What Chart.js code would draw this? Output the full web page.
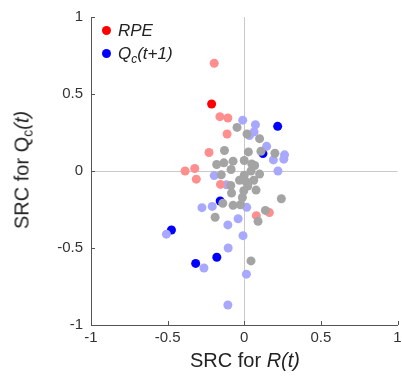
<!DOCTYPE html>
<html>
<head>
<meta charset="utf-8">
<script src="https://cdn.jsdelivr.net/npm/chart.js@4.4.0/dist/chart.umd.min.js"></script>
<style>
    body { margin: 0; background: #fff; }
    #wrap { position: relative; width: 402px; height: 377px; font-family: "Liberation Sans", Arial, sans-serif; color: #222; }
    canvas { position: absolute; left: 0; top: 0; }
    .xtitle { position: absolute; left: 145px; width: 200px; top: 349px; text-align: center; font-size: 20px; }
    .ytitle { position: absolute; left: 22px; top: 170px; font-size: 20px; white-space: nowrap;
              transform: translate(-50%, -50%) rotate(-90deg); }
    .legend { position: absolute; left: 102px; font-size: 17px; font-style: italic; line-height: 20px; }
    .legend span.dot { display: inline-block; width: 9px; height: 9px; border-radius: 50%; margin-right: 7px; vertical-align: 1px; }
    sub { font-size: 70%; vertical-align: -4px; line-height: 0; }
</style>
</head>
<body>
<div id="wrap">
    <canvas id="chart" width="402" height="377"></canvas>
    <div class="legend" style="top:21px"><span class="dot" style="background:#ff0000"></span>RPE</div>
    <div class="legend" style="top:44px"><span class="dot" style="background:#0000ff"></span>Q<sub>c</sub>(t+1)</div>
    <div class="xtitle">SRC for <i>R(t)</i></div>
    <div class="ytitle">SRC for Q<sub>c</sub><i>(t)</i></div>
</div>
<script>
// Axis ticks
const tickValues = [-1, -0.5, 0, 0.5, 1];

// Non-significant neurons (gray)
const grayPoints = [
    [-0.047, 0.283], [0.018, 0.24], [0.10, 0.21], [-0.129, 0.133], [0.027, 0.124],
    [0.109, 0.128], [0.20, 0.115], [-0.18, 0.042], [-0.133, 0.053], [-0.073, 0.064],
    [0.0, 0.068], [0.049, 0.046], [0.068, 0.036], [-0.086, 0.01], [0.044, 0.0],
    [-0.15, -0.025], [0.0, -0.027], [0.10, -0.02], [-0.031, -0.06], [0.012, -0.07],
    [0.062, -0.06], [-0.088, -0.094], [0.023, -0.098], [-0.003, -0.128], [0.077, -0.124],
    [-0.083, -0.143], [-0.012, -0.172], [-0.14, -0.21], [0.242, -0.18], [-0.073, -0.223],
    [-0.025, -0.219], [0.138, -0.256], [-0.19, -0.30], [0.09, -0.327], [0.044, -0.584]
];

// RPE neurons, light (weaker) and solid (strong)
const rpeLight = [
    [-0.196, 0.70], [-0.159, 0.353], [-0.107, 0.344], [-0.112, 0.24], [-0.23, 0.12],
    [-0.323, 0.016], [-0.386, 0.0], [-0.313, -0.053], [-0.155, -0.087], [0.164, -0.27],
    [0.079, -0.29]
];
const rpeSolid = [[-0.213, 0.435]];

// Qc(t+1) neurons, light and solid
const qcLight = [
    [-0.01, 0.33], [0.073, 0.30], [0.034, 0.23], [0.064, 0.254], [0.146, 0.16],
    [0.263, 0.105], [0.258, 0.077], [0.19, 0.072], [0.22, 0.0], [-0.196, -0.03],
    [-0.116, -0.09], [-0.276, -0.238], [-0.209, -0.23], [0.016, -0.236], [-0.04, -0.31],
    [-0.107, -0.35], [-0.508, -0.41], [-0.008, -0.42], [-0.105, -0.50], [-0.263, -0.63],
    [0.014, -0.67], [-0.107, -0.87]
];
const qcSolid = [
    [0.218, 0.29], [0.122, 0.113], [-0.157, -0.195], [-0.475, -0.383], [-0.179, -0.56],
    [-0.317, -0.60]
];

function toXY(list) {
    return list.map(p => ({ x: p[0], y: p[1] }));
}

function makeSet(list, color) {
    return {
        data: toXY(list),
        backgroundColor: color,
        borderWidth: 0,
        pointRadius: 4.5,
        pointHoverRadius: 4.5
    };
}

// Small inward tick marks like the original figure
const innerTicks = {
    id: 'innerTicks',
    afterDraw(chart) {
        const ctx = chart.ctx;
        const xs = chart.scales.x, ys = chart.scales.y;
        ctx.save();
        ctx.strokeStyle = '#555';
        ctx.lineWidth = 1;
        ctx.beginPath();
        tickValues.forEach(v => {
            const px = Math.round(xs.getPixelForValue(v)) + 0.5;
            ctx.moveTo(px, xs.top);
            ctx.lineTo(px, xs.top - 4);
            const py = Math.round(ys.getPixelForValue(v)) + 0.5;
            ctx.moveTo(ys.right, py);
            ctx.lineTo(ys.right + 4, py);
        });
        ctx.stroke();
        ctx.restore();
    }
};

const axisFont = { family: '"Liberation Sans", Arial, sans-serif', size: 15 };

function zeroLine(context) {
    return context.tick && context.tick.value === 0 ? '#c8c8c8' : 'rgba(0,0,0,0)';
}

// Plain labels: 1, 0.5, 0, -0.5, -1
function tickLabel(value) {
    return String(value);
}

const ctx = document.getElementById('chart').getContext('2d');
new Chart(ctx, {
    type: 'scatter',
    data: {
        datasets: [
            makeSet(grayPoints, '#a4a4a4'),
            makeSet(rpeLight, '#ff8e8e'),
            makeSet(qcLight, '#a8a8ff'),
            makeSet(rpeSolid, '#ff0000'),
            makeSet(qcSolid, '#0000ff')
        ]
    },
    options: {
        responsive: false,
        animation: false,
        layout: { padding: { top: 16, right: 0, left: 0, bottom: 0 } },
        plugins: { legend: { display: false }, tooltip: { enabled: false } },
        scales: {
            x: {
                min: -1, max: 1,
                afterBuildTicks: s => { s.ticks = tickValues.map(v => ({ value: v })); },
                afterFit: s => { s.height = 52; s.paddingRight = 0; },
                ticks: { font: axisFont, color: '#333', padding: 4, maxRotation: 0, callback: tickLabel },
                grid: { color: zeroLine, borderDash: [2, 2], drawTicks: false },
                border: { color: '#555', width: 1 }
            },
            y: {
                min: -1, max: 1,
                afterBuildTicks: s => { s.ticks = tickValues.map(v => ({ value: v })); },
                afterFit: s => { s.width = 91; },
                ticks: { font: axisFont, color: '#333', padding: 8, callback: tickLabel },
                grid: { color: zeroLine, borderDash: [2, 2], drawTicks: false },
                border: { color: '#555', width: 1 }
            }
        }
    },
    plugins: [innerTicks]
});
</script>
</body>
</html>
